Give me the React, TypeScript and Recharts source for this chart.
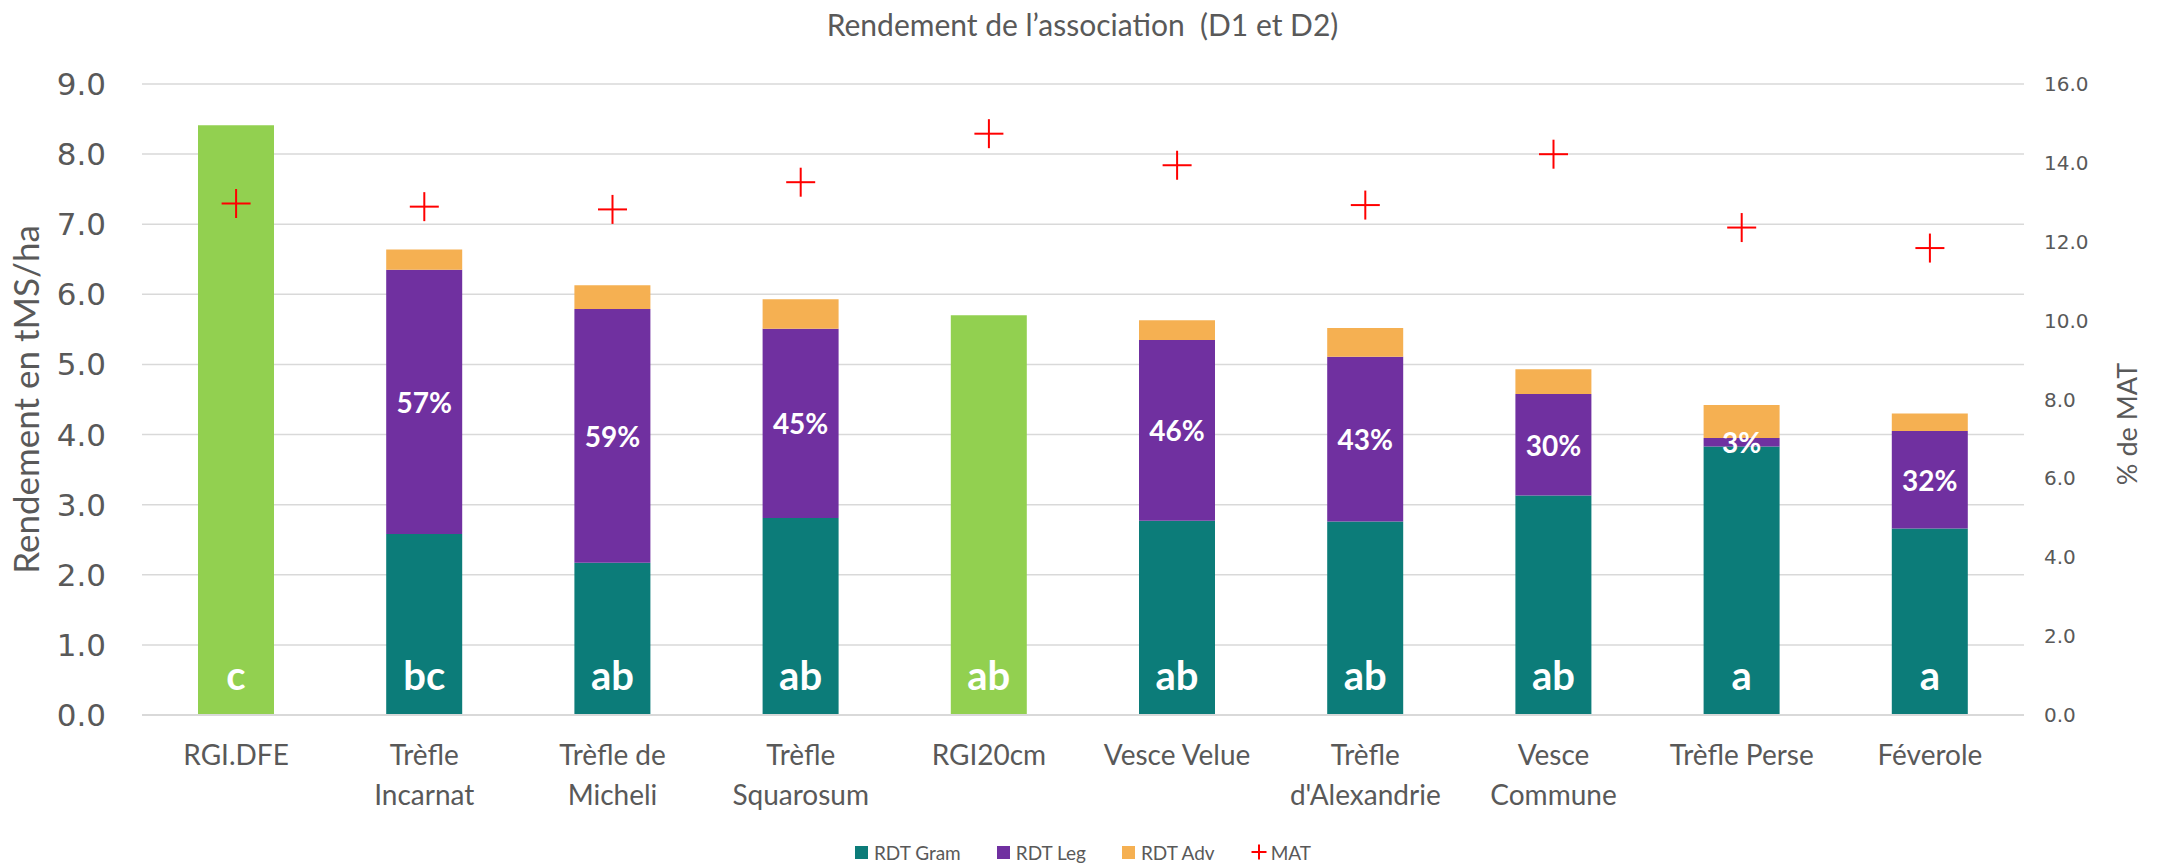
import React from 'react';
import {
  ComposedChart,
  Bar,
  Line,
  XAxis,
  YAxis,
  CartesianGrid,
  Legend,
  Cell,
  LabelList,
} from 'recharts';

// valeurs (tMS/ha et % MAT)
const categories = [
  'RGI.DFE',
  'Trèfle\nIncarnat',
  'Trèfle de\nMicheli',
  'Trèfle\nSquarosum',
  'RGI20cm',
  'Vesce Velue',
  "Trèfle\nd'Alexandrie",
  'Vesce\nCommune',
  'Trèfle Perse',
  'Féverole',
];
const rdtGram = [8.41, 2.58, 2.17, 2.81, 5.7, 2.77, 2.76, 3.13, 3.83, 2.66];
const rdtLeg = [0, 3.77, 3.62, 2.7, 0, 2.58, 2.35, 1.45, 0.12, 1.39];
const rdtAdv = [0, 0.29, 0.34, 0.42, 0, 0.28, 0.41, 0.35, 0.47, 0.25];
const mat = [12.97, 12.89, 12.82, 13.51, 14.74, 13.94, 12.93, 14.22, 12.36, 11.84];
const pctLeg = ['', '57%', '59%', '45%', '', '46%', '43%', '30%', '3%', '32%'];
const groupes = ['c', 'bc', 'ab', 'ab', 'ab', 'ab', 'ab', 'ab', 'a', 'a'];
const ticksRdt = [0, 1, 2, 3, 4, 5, 6, 7, 8, 9];
const ticksMat = [0, 2, 4, 6, 8, 10, 12, 14, 16];

const data = categories.map((nom, i) => ({
  nom,
  gram: rdtGram[i],
  leg: rdtLeg[i],
  adv: rdtAdv[i],
  mat: mat[i],
}));

const TEAL = '#0C7C79';
const PURPLE = '#7030A0';
const ORANGE = '#F5B052';
const GREEN = '#92D050';
const GREY = '#595959';
const TXT = 'Lato, "Open Sans", sans-serif';

const Plus = ({ cx, cy, size = 29 }: any) => {
  if (cx == null || cy == null) return null;
  const h = size / 2;
  return (
    <g>
      <line x1={cx - h} y1={cy} x2={cx + h} y2={cy} stroke="#FF0000" strokeWidth={2} />
      <line x1={cx} y1={cy - h} x2={cx} y2={cy + h} stroke="#FF0000" strokeWidth={2} />
    </g>
  );
};

const CategoryTick = ({ x, y, payload }: any) => {
  const lines = String(payload.value).split('\n');
  return (
    <text x={x} y={y} textAnchor="middle" fill={GREY} fontSize={28} fontFamily={TXT}>
      {lines.map((l, i) => (
        <tspan key={i} x={x} dy={i === 0 ? 42 : 40}>
          {l}
        </tspan>
      ))}
    </text>
  );
};

const LegendContent = () => {
  const items = [
    { label: 'RDT Gram', color: TEAL },
    { label: 'RDT Leg', color: PURPLE },
    { label: 'RDT Adv', color: ORANGE },
  ];
  return (
    <div
      style={{
        height: 36,
        boxSizing: 'border-box',
        paddingTop: 8,
        display: 'flex',
        justifyContent: 'center',
        alignItems: 'center',
        fontFamily: TXT,
        fontSize: 19,
        color: GREY,
        gap: 36,
      }}
    >
      {items.map((it) => (
        <span key={it.label} style={{ display: 'flex', alignItems: 'center', gap: 6 }}>
          <span style={{ width: 13, height: 13, background: it.color, display: 'inline-block' }} />
          {it.label}
        </span>
      ))}
      <span style={{ display: 'flex', alignItems: 'center', gap: 4 }}>
        <svg width={16} height={16}>
          <Plus cx={8} cy={8} size={15} />
        </svg>
        MAT
      </span>
    </div>
  );
};

// the label lists skip zero-height bars, so look the row up by its category name
const PctLabel = (props: any) => {
  const { x, y, width, height, value } = props;
  const txt = pctLeg[categories.indexOf(value)];
  if (!txt) return null;
  return (
    <text
      x={x + width / 2}
      y={y + height / 2}
      textAnchor="middle"
      dominantBaseline="central"
      fill="#FFFFFF"
      fontSize={28}
      fontWeight={700}
      fontFamily={TXT}
    >
      {txt}
    </text>
  );
};

const GroupeLabel = (props: any) => {
  const { x, y, width, height, value } = props;
  return (
    <text
      x={x + width / 2}
      y={y + height - 25}
      textAnchor="middle"
      fill="#FFFFFF"
      fontSize={40}
      fontWeight={700}
      fontFamily={TXT}
    >
      {groupes[categories.indexOf(value)]}
    </text>
  );
};

export default function App() {
  return (
    <div style={{ position: 'relative', width: 2165, height: 866, background: '#fff' }}>
      <style>{'body{margin:0}'}</style>
      <div
        style={{
          position: 'absolute',
          top: 6,
          left: 0,
          width: 2165,
          textAlign: 'center',
          fontFamily: TXT,
          fontSize: 30,
          color: GREY,
        }}
      >
        Rendement de l’association&nbsp;&nbsp;(D1 et D2)
      </div>
      <ComposedChart
        width={2165}
        height={866}
        data={data}
        margin={{ top: 84, right: 11, left: 12, bottom: 0 }}
        barSize={76}
      >
        <CartesianGrid vertical={false} stroke="#D9D9D9" strokeWidth={1.5} yAxisId="left" />
        <XAxis
          dataKey="nom"
          height={115}
          tick={<CategoryTick />}
          tickLine={false}
          axisLine={{ stroke: '#D9D9D9', strokeWidth: 2 }}
          interval={0}
        />
        <YAxis
          yAxisId="left"
          width={130}
          domain={[0, 9]}
          ticks={ticksRdt}
          tickFormatter={(v: number) => v.toFixed(1)}
          axisLine={false}
          tickLine={false}
          tickMargin={30}
          tick={{ fill: GREY, fontSize: 31, fontFamily: '"DejaVu Sans", sans-serif' }}
          label={({ viewBox }: any) => (
            <text
              x={25}
              y={viewBox.y + viewBox.height / 2}
              transform={`rotate(-90, 25, ${viewBox.y + viewBox.height / 2})`}
              textAnchor="middle"
              dominantBaseline="central"
              fill={GREY}
              fontSize={35}
              fontFamily={TXT}
            >
              Rendement en tMS/ha
            </text>
          )}
        />
        <YAxis
          yAxisId="right"
          orientation="right"
          width={130}
          domain={[0, 16]}
          ticks={ticksMat}
          tickFormatter={(v: number) => v.toFixed(1)}
          axisLine={false}
          tickLine={false}
          tickMargin={14}
          tick={{ fill: GREY, fontSize: 20, fontFamily: '"DejaVu Sans", sans-serif' }}
          label={() => (
            <text
              x={2126}
              y={424}
              transform="rotate(-90, 2126, 424)"
              textAnchor="middle"
              dominantBaseline="central"
              fill={GREY}
              fontSize={27}
              fontFamily={TXT}
            >
              % de MAT
            </text>
          )}
        />
        <Legend verticalAlign="bottom" content={<LegendContent />} />
        <Bar dataKey="gram" name="RDT Gram" stackId="a" yAxisId="left" fill={TEAL} isAnimationActive={false}>
          {data.map((d, i) => (
            <Cell key={i} fill={d.leg === 0 && d.adv === 0 ? GREEN : TEAL} />
          ))}
          <LabelList dataKey="nom" content={<GroupeLabel />} />
        </Bar>
        <Bar dataKey="leg" name="RDT Leg" stackId="a" yAxisId="left" fill={PURPLE} isAnimationActive={false}>
          <LabelList dataKey="nom" content={<PctLabel />} />
        </Bar>
        <Bar dataKey="adv" name="RDT Adv" stackId="a" yAxisId="left" fill={ORANGE} isAnimationActive={false} />
        <Line
          dataKey="mat"
          name="MAT"
          yAxisId="right"
          stroke="none"
          dot={<Plus />}
          activeDot={false}
          isAnimationActive={false}
        />
      </ComposedChart>
    </div>
  );
}
